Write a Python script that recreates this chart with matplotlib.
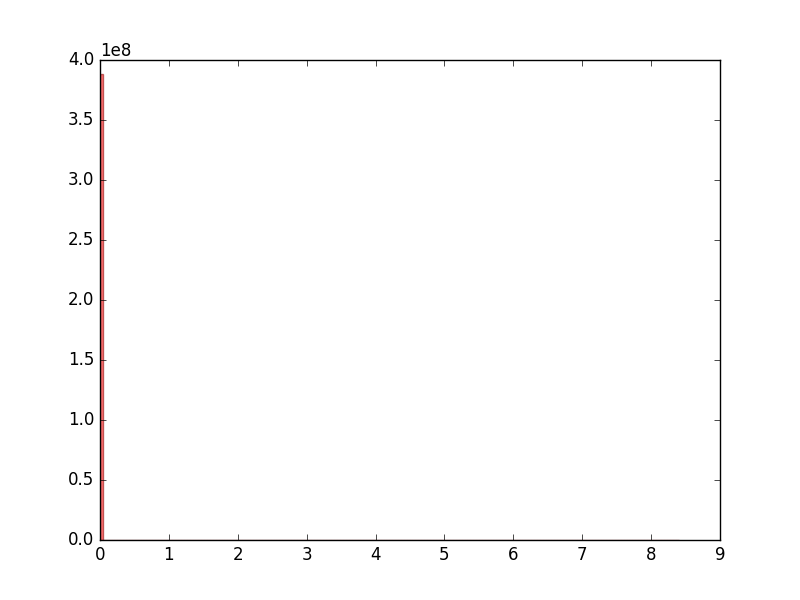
import matplotlib
matplotlib.use("Agg")
import matplotlib.pyplot as plt
import numpy as np

plt.style.use("classic")

# Histogram data: 200 bins from 0 to 8.4
x_min = 0.0
x_max = 8.4
n_bins = 200
counts = [
    3.88e8, 3.1e5, 1.9e5, 1.3e5, 9.6e4, 7.2e4, 5.6e4, 4.5e4, 3.7e4, 3.1e4,
    2.7e4, 2.3e4, 2.0e4, 1.8e4, 1.6e4, 1.45e4, 1.3e4, 1.2e4, 1.1e4, 1.0e4,
    9.5e3, 9.0e3, 8.5e3, 8.0e3, 7.6e3, 7.2e3, 6.9e3, 6.6e3, 6.3e3, 6.0e3,
    5.8e3, 5.6e3, 5.4e3, 5.2e3, 5.0e3, 4.8e3, 4.7e3, 4.5e3, 4.4e3, 4.3e3,
    4.1e3, 4.0e3, 3.9e3, 3.8e3, 3.7e3, 3.6e3, 3.5e3, 3.4e3, 3.3e3, 3.2e3,
    3.1e3, 3.0e3, 2.9e3, 2.9e3, 2.8e3, 2.7e3, 2.7e3, 2.6e3, 2.5e3, 2.5e3,
    2.4e3, 2.4e3, 2.3e3, 2.3e3, 2.2e3, 2.2e3, 2.1e3, 2.1e3, 2.0e3, 2.0e3,
    1.9e3, 1.9e3, 1.9e3, 1.8e3, 1.8e3, 1.7e3, 1.7e3, 1.7e3, 1.6e3, 1.6e3,
    1.6e3, 1.5e3, 1.5e3, 1.5e3, 1.4e3, 1.4e3, 1.4e3, 1.4e3, 1.3e3, 1.3e3,
    1.3e3, 1.3e3, 1.2e3, 1.2e3, 1.2e3, 1.2e3, 1.1e3, 1.1e3, 1.1e3, 1.1e3,
    1.0e3, 1.0e3, 1.0e3, 9.8e2, 9.6e2, 9.4e2, 9.2e2, 9.0e2, 8.8e2, 8.6e2,
    8.4e2, 8.2e2, 8.0e2, 7.8e2, 7.6e2, 7.4e2, 7.2e2, 7.0e2, 6.8e2, 6.6e2,
    6.4e2, 6.2e2, 6.0e2, 5.8e2, 5.6e2, 5.4e2, 5.2e2, 5.0e2, 4.8e2, 4.6e2,
    4.4e2, 4.2e2, 4.0e2, 3.8e2, 3.6e2, 3.4e2, 3.2e2, 3.0e2, 2.9e2, 2.8e2,
    2.7e2, 2.6e2, 2.5e2, 2.4e2, 2.3e2, 2.2e2, 2.1e2, 2.0e2, 1.9e2, 1.8e2,
    1.7e2, 1.6e2, 1.5e2, 1.4e2, 1.3e2, 1.2e2, 1.1e2, 1.0e2, 9.5e1, 9.0e1,
    8.5e1, 8.0e1, 7.5e1, 7.0e1, 6.5e1, 6.0e1, 5.5e1, 5.0e1, 4.5e1, 4.0e1,
    3.5e1, 3.0e1, 2.8e1, 2.6e1, 2.4e1, 2.2e1, 2.0e1, 1.8e1, 1.6e1, 1.4e1,
    1.2e1, 1.0e1, 9.0e0, 8.0e0, 7.0e0, 6.0e0, 5.0e0, 4.0e0, 3.0e0, 2.0e0,
    2.0e0, 2.0e0, 1.0e0, 1.0e0, 1.0e0, 1.0e0, 1.0e0, 1.0e0, 1.0e0, 1.0e0,
]

edges = np.linspace(x_min, x_max, n_bins + 1)

fig = plt.figure(figsize=(8, 6), dpi=100, facecolor="white")
ax = fig.add_subplot(111)
ax.hist(edges[:-1], bins=edges, weights=counts, facecolor="red",
        edgecolor="#8b0000", alpha=0.55, linewidth=1.0)
ax.set_xlim(0, 9)
ax.set_ylim(0, 4.0e8)
ax.set_xticks(range(0, 10))
ax.set_yticks(np.arange(0, 4.01e8, 0.5e8))
fig.savefig("out.png", dpi=100, facecolor="white")
